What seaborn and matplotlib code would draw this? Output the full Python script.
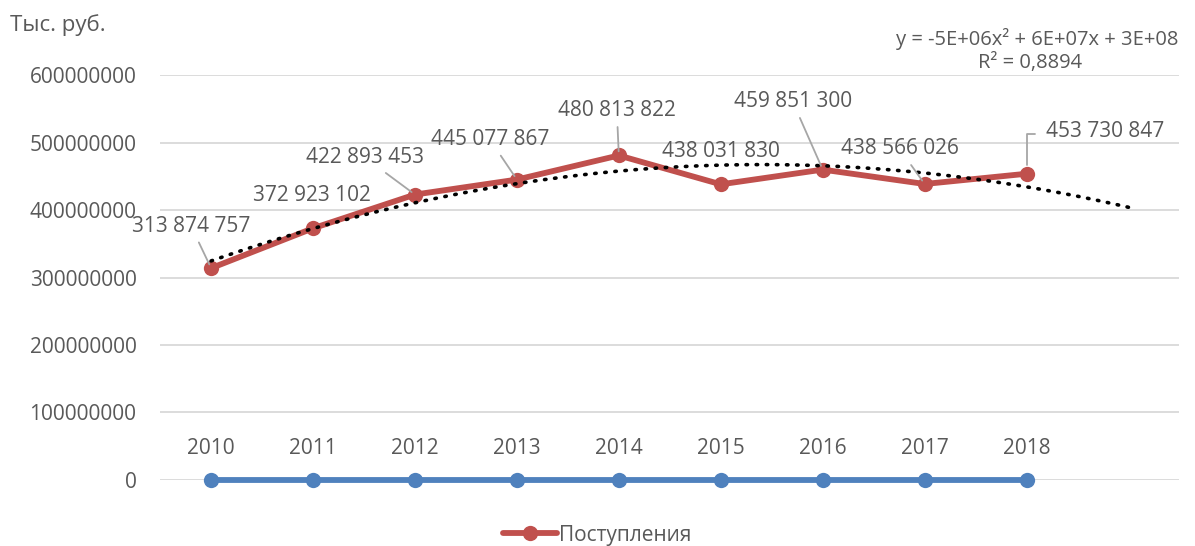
import numpy as np
import pandas as pd
import matplotlib
matplotlib.use("Agg")
import matplotlib.pyplot as plt
import seaborn as sns
from matplotlib.lines import Line2D
from matplotlib.ticker import FuncFormatter

# data
years = [2010, 2011, 2012, 2013, 2014, 2015, 2016, 2017, 2018]
receipts = [313874757, 372923102, 422893453, 445077867, 480813822,
            438031830, 459851300, 438566026, 453730847]
y_ticks = [0, 100000000, 200000000, 300000000, 400000000, 500000000, 600000000]
unit_label = "Тыс. руб."
series_name = "Поступления"
trend_eq = "y = -5E+06x² + 6E+07x + 3E+08"
trend_r2 = "R² = 0,8894"

RED = "#C0504D"
BLUE = "#4F81BD"
GREY_TXT = "#595959"
FS = 15

sns.set_theme(style="white")
plt.rcParams["font.family"] = ["Open Sans", "DejaVu Sans"]

df = pd.DataFrame({"idx": np.arange(len(years)), "year": years, "value": receipts})

fig = plt.figure(figsize=(11.95, 5.46), dpi=100)
ax = fig.add_axes([0.134, 0.1209, 0.853, 0.7417])

# polynomial trendline (Excel: x = 1..n, forecast one period forward)
xs = np.arange(1, len(years) + 1)
coef = np.polyfit(xs, receipts, 2)
xt = np.linspace(1, len(years) + 1, 200)
ax.plot(xt - 1, np.polyval(coef, xt), color="black", lw=2.6,
        ls=(0, (0.4, 2.4)), dash_capstyle="round", zorder=4)

sns.lineplot(data=df, x="idx", y="value", ax=ax, color=RED, lw=4.2,
             marker="o", markersize=11, markeredgewidth=0, zorder=3)
# year series (values are years, so they sit at ~0 on this scale)
sns.lineplot(data=df, x="idx", y="year", ax=ax, color=BLUE, lw=4.2,
             marker="o", markersize=11, markeredgewidth=0, zorder=3,
             clip_on=False)

ax.set_xlim(-0.5, len(years) + 0.5)
ax.set_ylim(y_ticks[0], y_ticks[-1])
ax.set_yticks(y_ticks)
ax.yaxis.set_major_formatter(FuncFormatter(lambda v, p: f"{int(v)}"))
ax.set_xticks([])
ax.set_xlabel("")
ax.set_ylabel("")
ax.grid(axis="y", color="#D9D9D9", lw=1.3)
ax.set_axisbelow(True)
for s in ax.spines.values():
    s.set_visible(False)
ax.tick_params(axis="y", labelsize=FS, labelcolor=GREY_TXT, length=0, pad=17)

# label offsets in pixels (dx, dy) and whether a leader line is drawn
offsets = [(-20, 42, True), (-1, 33, False), (-50, 37, True), (-27, 40, True),
           (-2, 45, True), (0, 33, False), (-30, 68, True), (-25, 35, True),
           (79, 42, "elbow")]
for i, (v, (dx, dy, lead)) in enumerate(zip(receipts, offsets)):
    txt = f"{v:,}".replace(",", " ")
    kw = {}
    if lead is True:
        kw["arrowprops"] = dict(arrowstyle="-", color="#A6A6A6", lw=1.3,
                                shrinkA=2, shrinkB=3)
    elif lead == "elbow":
        kw["arrowprops"] = dict(arrowstyle="-", color="#A6A6A6", lw=1.3,
                                relpos=(0, 0.4), shrinkA=6, shrinkB=6,
                                connectionstyle="angle,angleA=180,angleB=90,rad=0")
    ax.annotate(txt, (i, v), xytext=(dx, dy), textcoords="offset pixels",
                ha="center", va="center", fontsize=FS, color=GREY_TXT,
                zorder=6, **kw)

for i, yr in enumerate(years):
    ax.annotate(str(yr), (i, yr), xytext=(0, 31), textcoords="offset pixels",
                ha="center", va="center", fontsize=FS, color=GREY_TXT)

fig.text(10 / 1195, 1 - 25 / 546, unit_label, fontsize=16, color=GREY_TXT,
         ha="left", va="center")
fig.text(1037 / 1195, 1 - 39 / 546, trend_eq, fontsize=14.5, color=GREY_TXT,
         ha="center", va="center")
fig.text(1030 / 1195, 1 - 63 / 546, trend_r2, fontsize=14.5, color=GREY_TXT,
         ha="center", va="center")

handle = Line2D([], [], color=RED, lw=4.2, marker="o", markersize=11,
                markeredgewidth=0)
fig.legend([handle], [series_name], loc="center", bbox_to_anchor=(0.5, 1 - 535 / 546),
           frameon=False, fontsize=FS, labelcolor=GREY_TXT, handlelength=2.6,
           handletextpad=0.1)

fig.savefig("out.png", dpi=100)
